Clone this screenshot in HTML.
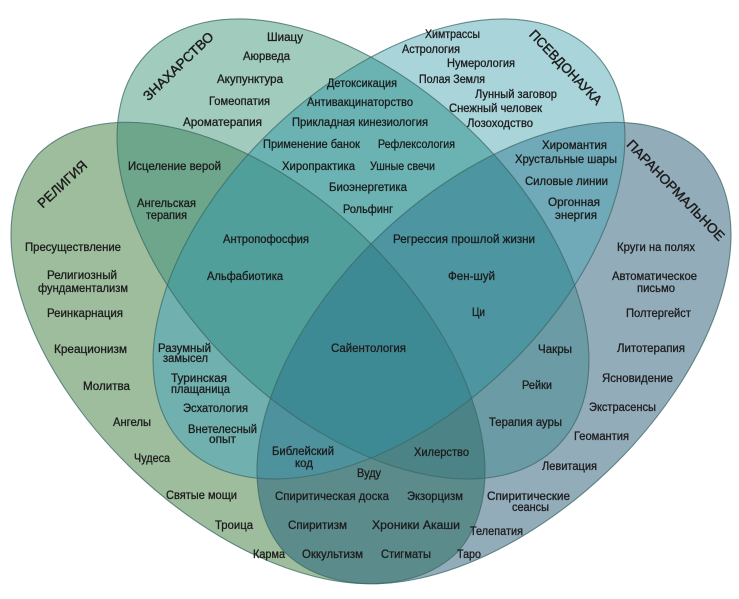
<!DOCTYPE html>
<html><head><meta charset="utf-8">
<style>
html,body{margin:0;padding:0;background:#fff;width:739px;height:599px;overflow:hidden;}
svg{display:block;}
text{font-family:"Liberation Sans","DejaVu Sans",sans-serif;font-size:12px;fill:#1c1c1c;stroke:#1c1c1c;stroke-width:0.3px;}
.t{font-size:13.5px;stroke-width:0.4px;}
</style></head>
<body>
<svg width="739" height="599" viewBox="0 0 739 599" xmlns="http://www.w3.org/2000/svg">
<defs>
<path id="eR" d="M38.4 154.1 A289 167 43.5 0 1 457.6 551.9 A289 167 43.5 0 1 38.4 154.1 Z"/>
<path id="eZ" d="M147 53.5 A284 167 43.5 0 1 559 444.5 A284 167 43.5 0 1 147 53.5 Z"/>
<path id="eP" d="M183 444.5 A284 167 -43.5 0 1 595 53.5 A284 167 -43.5 0 1 183 444.5 Z"/>
<path id="eA" d="M284.4 551.9 A289 167 -43.5 0 1 703.6 154.1 A289 167 -43.5 0 1 284.4 551.9 Z"/>
<clipPath id="cR"><path d="M38.4 154.1 A289 167 43.5 0 1 457.6 551.9 A289 167 43.5 0 1 38.4 154.1 Z"/></clipPath>
<clipPath id="cZ"><path d="M147 53.5 A284 167 43.5 0 1 559 444.5 A284 167 43.5 0 1 147 53.5 Z"/></clipPath>
<clipPath id="cP"><path d="M183 444.5 A284 167 -43.5 0 1 595 53.5 A284 167 -43.5 0 1 183 444.5 Z"/></clipPath>
<clipPath id="cA"><path d="M284.4 551.9 A289 167 -43.5 0 1 703.6 154.1 A289 167 -43.5 0 1 284.4 551.9 Z"/></clipPath>
</defs>
<rect width="739" height="599" fill="#fff"/>
<!-- singles -->
<use href="#eR" fill="#9dbd9d"/>
<use href="#eA" fill="#93acba"/>
<use href="#eZ" fill="#a1cbbd"/>
<use href="#eP" fill="#a9d4da"/>
<!-- pairs -->
<g clip-path="url(#cR)"><use href="#eZ" fill="#6da68a"/></g>
<g clip-path="url(#cR)"><use href="#eP" fill="#70b0ae"/></g>
<g clip-path="url(#cR)"><use href="#eA" fill="#5c8b8c"/></g>
<g clip-path="url(#cZ)"><use href="#eP" fill="#6bb3b3"/></g>
<g clip-path="url(#cZ)"><use href="#eA" fill="#6b9ca6"/></g>
<g clip-path="url(#cP)"><use href="#eA" fill="#70a9b7"/></g>
<!-- triples -->
<g clip-path="url(#cR)"><g clip-path="url(#cZ)"><use href="#eP" fill="#519f9a"/></g></g>
<g clip-path="url(#cR)"><g clip-path="url(#cZ)"><use href="#eA" fill="#4c8387"/></g></g>
<g clip-path="url(#cR)"><g clip-path="url(#cP)"><use href="#eA" fill="#4e929d"/></g></g>
<g clip-path="url(#cZ)"><g clip-path="url(#cP)"><use href="#eA" fill="#4c95a1"/></g></g>
<!-- quad -->
<g clip-path="url(#cR)"><g clip-path="url(#cZ)"><g clip-path="url(#cP)"><use href="#eA" fill="#3e8a94"/></g></g></g>
<!-- outlines -->
<g fill="none" stroke="#3b6867" stroke-opacity="0.75" stroke-width="1.1">
<use href="#eR"/><use href="#eZ"/><use href="#eP"/><use href="#eA"/>
</g>

<!-- titles -->
<g transform="translate(178,66) rotate(-44)"><text class="t" x="-46" y="5" textLength="92" lengthAdjust="spacingAndGlyphs">ЗНАХАРСТВО</text></g>
<g transform="translate(62,184) rotate(-43)"><text class="t" x="-31" y="5" textLength="62" lengthAdjust="spacingAndGlyphs">РЕЛИГИЯ</text></g>
<g transform="translate(566,67) rotate(46)"><text class="t" x="-49" y="5" textLength="98" lengthAdjust="spacingAndGlyphs">ПСЕВДОНАУКА</text></g>
<g transform="translate(676,190) rotate(46)"><text class="t" x="-67" y="5" textLength="134" lengthAdjust="spacingAndGlyphs">ПАРАНОРМАЛЬНОЕ</text></g>

<!-- labels -->
<text x="267" y="41" textLength="36" lengthAdjust="spacingAndGlyphs">Шиацу</text>
<text x="243" y="60" textLength="47" lengthAdjust="spacingAndGlyphs">Аюрведа</text>
<text x="217" y="83" textLength="66" lengthAdjust="spacingAndGlyphs">Акупунктура</text>
<text x="209" y="105" textLength="61" lengthAdjust="spacingAndGlyphs">Гомеопатия</text>
<text x="183" y="126" textLength="79" lengthAdjust="spacingAndGlyphs">Ароматерапия</text>
<text x="128" y="170" textLength="93" lengthAdjust="spacingAndGlyphs">Исцеление верой</text>
<text x="137" y="207" textLength="59" lengthAdjust="spacingAndGlyphs">Ангельская</text>
<text x="146" y="219" textLength="41" lengthAdjust="spacingAndGlyphs">терапия</text>
<text x="25" y="251" textLength="96" lengthAdjust="spacingAndGlyphs">Пресуществление</text>
<text x="47" y="279" textLength="70" lengthAdjust="spacingAndGlyphs">Религиозный</text>
<text x="38" y="292" textLength="90" lengthAdjust="spacingAndGlyphs">фундаментализм</text>
<text x="223" y="243" textLength="86" lengthAdjust="spacingAndGlyphs">Антропофосфия</text>
<text x="207" y="280" textLength="76" lengthAdjust="spacingAndGlyphs">Альфабиотика</text>
<text x="327" y="87" textLength="70" lengthAdjust="spacingAndGlyphs">Детоксикация</text>
<text x="307" y="106" textLength="106" lengthAdjust="spacingAndGlyphs">Антивакцинаторство</text>
<text x="292" y="126" textLength="136" lengthAdjust="spacingAndGlyphs">Прикладная кинезиология</text>
<text x="263" y="148" textLength="97" lengthAdjust="spacingAndGlyphs">Применение банок</text>
<text x="378" y="148" textLength="77" lengthAdjust="spacingAndGlyphs">Рефлексология</text>
<text x="282" y="170" textLength="73" lengthAdjust="spacingAndGlyphs">Хиропрактика</text>
<text x="370" y="170" textLength="65" lengthAdjust="spacingAndGlyphs">Ушные свечи</text>
<text x="329" y="191" textLength="78" lengthAdjust="spacingAndGlyphs">Биоэнергетика</text>
<text x="343" y="213" textLength="50" lengthAdjust="spacingAndGlyphs">Рольфинг</text>
<text x="425" y="38" textLength="55" lengthAdjust="spacingAndGlyphs">Химтрассы</text>
<text x="402" y="53" textLength="58" lengthAdjust="spacingAndGlyphs">Астрология</text>
<text x="447" y="67" textLength="68" lengthAdjust="spacingAndGlyphs">Нумерология</text>
<text x="419" y="83" textLength="66" lengthAdjust="spacingAndGlyphs">Полая Земля</text>
<text x="475" y="98" textLength="82" lengthAdjust="spacingAndGlyphs">Лунный заговор</text>
<text x="449" y="112" textLength="93" lengthAdjust="spacingAndGlyphs">Снежный человек</text>
<text x="467" y="127" textLength="66" lengthAdjust="spacingAndGlyphs">Лозоходство</text>
<text x="542" y="149" textLength="65" lengthAdjust="spacingAndGlyphs">Хиромантия</text>
<text x="515" y="163" textLength="102" lengthAdjust="spacingAndGlyphs">Хрустальные шары</text>
<text x="525" y="185" textLength="83" lengthAdjust="spacingAndGlyphs">Силовые линии</text>
<text x="548" y="206" textLength="52" lengthAdjust="spacingAndGlyphs">Оргонная</text>
<text x="555" y="219" textLength="42" lengthAdjust="spacingAndGlyphs">энергия</text>
<text x="393" y="243" textLength="142" lengthAdjust="spacingAndGlyphs">Регрессия прошлой жизни</text>
<text x="448" y="280" textLength="47" lengthAdjust="spacingAndGlyphs">Фен-шуй</text>
<text x="472" y="316" textLength="13" lengthAdjust="spacingAndGlyphs">Ци</text>
<text x="617" y="251" textLength="78" lengthAdjust="spacingAndGlyphs">Круги на полях</text>
<text x="612" y="280" textLength="85" lengthAdjust="spacingAndGlyphs">Автоматическое</text>
<text x="637" y="292" textLength="38" lengthAdjust="spacingAndGlyphs">письмо</text>
<text x="626" y="317" textLength="65" lengthAdjust="spacingAndGlyphs">Полтергейст</text>
<text x="617" y="352" textLength="68" lengthAdjust="spacingAndGlyphs">Литотерапия</text>
<text x="602" y="382" textLength="71" lengthAdjust="spacingAndGlyphs">Ясновидение</text>
<text x="589" y="411" textLength="67" lengthAdjust="spacingAndGlyphs">Экстрасенсы</text>
<text x="574" y="440" textLength="55" lengthAdjust="spacingAndGlyphs">Геомантия</text>
<text x="542" y="470" textLength="55" lengthAdjust="spacingAndGlyphs">Левитация</text>
<text x="487" y="500" textLength="83" lengthAdjust="spacingAndGlyphs">Спиритические</text>
<text x="512" y="511" textLength="37" lengthAdjust="spacingAndGlyphs">сеансы</text>
<text x="470" y="535" textLength="53" lengthAdjust="spacingAndGlyphs">Телепатия</text>
<text x="457" y="558" textLength="24" lengthAdjust="spacingAndGlyphs">Таро</text>
<text x="381" y="558" textLength="50" lengthAdjust="spacingAndGlyphs">Стигматы</text>
<text x="372" y="529" textLength="88" lengthAdjust="spacingAndGlyphs">Хроники Акаши</text>
<text x="407" y="500" textLength="56" lengthAdjust="spacingAndGlyphs">Экзорцизм</text>
<text x="275" y="500" textLength="114" lengthAdjust="spacingAndGlyphs">Спиритическая доска</text>
<text x="357" y="477" textLength="24" lengthAdjust="spacingAndGlyphs">Вуду</text>
<text x="272" y="455" textLength="62" lengthAdjust="spacingAndGlyphs">Библейский</text>
<text x="295" y="467" textLength="18" lengthAdjust="spacingAndGlyphs">код</text>
<text x="414" y="456" textLength="55" lengthAdjust="spacingAndGlyphs">Хилерство</text>
<text x="288" y="529" textLength="59" lengthAdjust="spacingAndGlyphs">Спиритизм</text>
<text x="302" y="558" textLength="61" lengthAdjust="spacingAndGlyphs">Оккультизм</text>
<text x="253" y="558" textLength="32" lengthAdjust="spacingAndGlyphs">Карма</text>
<text x="215" y="529" textLength="38" lengthAdjust="spacingAndGlyphs">Троица</text>
<text x="166" y="499" textLength="71" lengthAdjust="spacingAndGlyphs">Святые мощи</text>
<text x="134" y="462" textLength="36" lengthAdjust="spacingAndGlyphs">Чудеса</text>
<text x="113" y="426" textLength="38" lengthAdjust="spacingAndGlyphs">Ангелы</text>
<text x="83" y="390" textLength="47" lengthAdjust="spacingAndGlyphs">Молитва</text>
<text x="54" y="353" textLength="73" lengthAdjust="spacingAndGlyphs">Креационизм</text>
<text x="47" y="317" textLength="76" lengthAdjust="spacingAndGlyphs">Реинкарнация</text>
<text x="158" y="352" textLength="53" lengthAdjust="spacingAndGlyphs">Разумный</text>
<text x="163" y="362" textLength="45" lengthAdjust="spacingAndGlyphs">замысел</text>
<text x="171" y="382" textLength="56" lengthAdjust="spacingAndGlyphs">Туринская</text>
<text x="171" y="393" textLength="59" lengthAdjust="spacingAndGlyphs">плащаница</text>
<text x="183" y="412" textLength="65" lengthAdjust="spacingAndGlyphs">Эсхатология</text>
<text x="188" y="433" textLength="69" lengthAdjust="spacingAndGlyphs">Внетелесный</text>
<text x="209" y="443" textLength="27" lengthAdjust="spacingAndGlyphs">опыт</text>
<text x="331" y="352" textLength="75" lengthAdjust="spacingAndGlyphs">Сайентология</text>
<text x="538" y="353" textLength="34" lengthAdjust="spacingAndGlyphs">Чакры</text>
<text x="522" y="389" textLength="30" lengthAdjust="spacingAndGlyphs">Рейки</text>
<text x="489" y="426" textLength="73" lengthAdjust="spacingAndGlyphs">Терапия ауры</text>
</svg>
</body></html>
